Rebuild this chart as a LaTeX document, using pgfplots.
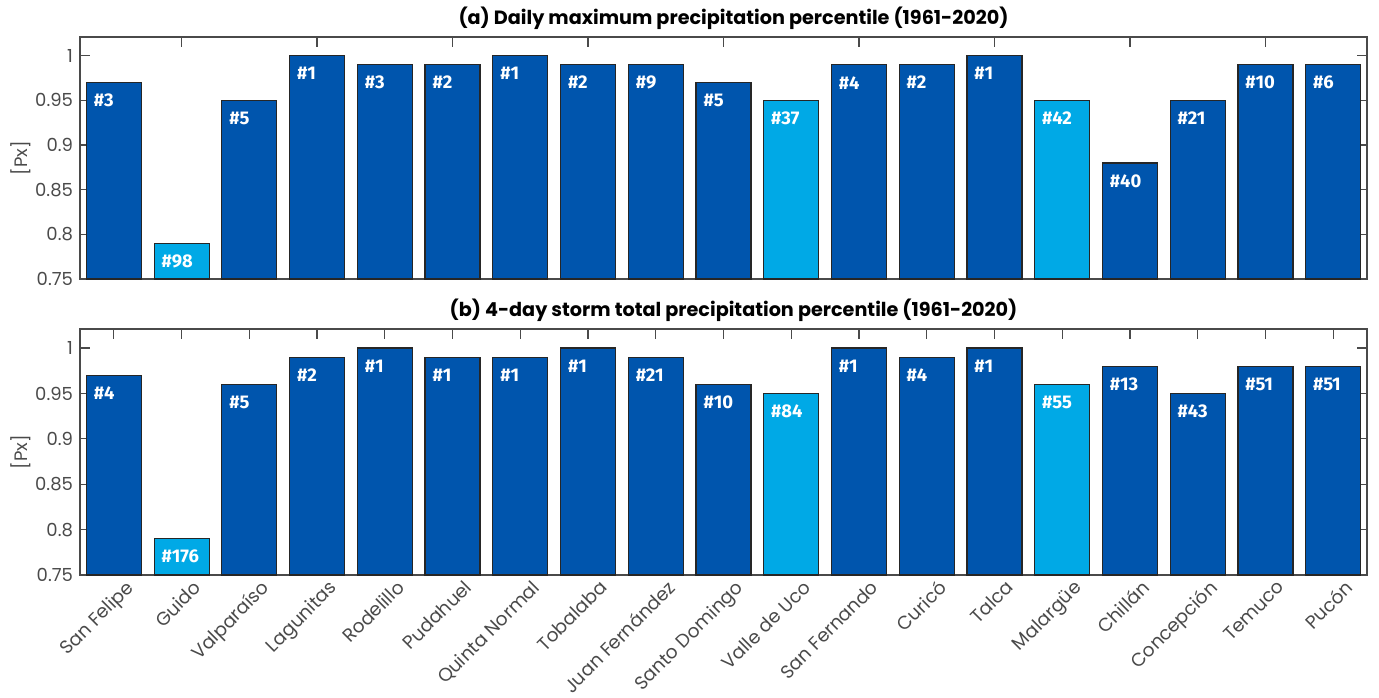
\documentclass[border=0pt]{standalone}
\usepackage{pgfplots}
\pgfplotsset{compat=1.18}
\usepackage{pgfplotstable}
\usepackage{fontspec}
\setmainfont{Poppins}
\newfontfamily\barfont{Fira Sans}

\definecolor{dkblue}{HTML}{0055AD}
\definecolor{ltblue}{HTML}{00A9E6}
\definecolor{axgray}{HTML}{4A4A4A}

% (a) daily maximum precipitation percentile
\pgfplotstableread{
x y lab
1 0.97 3
3 0.95 5
4 1.00 1
5 0.99 3
6 0.99 2
7 1.00 1
8 0.99 2
9 0.99 9
10 0.97 5
12 0.99 4
13 0.99 2
14 1.00 1
16 0.88 40
17 0.95 21
18 0.99 10
19 0.99 6
}\darkA
\pgfplotstableread{
x y lab
2 0.79 98
11 0.95 37
15 0.95 42
}\lightA

% (b) 4-day storm total precipitation percentile
\pgfplotstableread{
x y lab
1 0.97 4
3 0.96 5
4 0.99 2
5 1.00 1
6 0.99 1
7 0.99 1
8 1.00 1
9 0.99 21
10 0.96 10
12 1.00 1
13 0.99 4
14 1.00 1
16 0.98 13
17 0.95 43
18 0.98 51
19 0.98 51
}\darkB
\pgfplotstableread{
x y lab
2 0.79 176
11 0.95 84
15 0.96 55
}\lightB

\pgfplotsset{
  panel/.style={
    scale only axis, width=643.5pt, height=121pt,
    xmin=0.5, xmax=19.5, ymin=0.75, ymax=1.021,
    ytick={0.75,0.8,0.85,0.9,0.95,1},
    yticklabels={0.75,0.8,0.85,0.9,0.95,1},
    xtick pos=both, ytick pos=both,
    tick align=inside, major tick length=5pt,
    tick style={color=axgray, line width=0.6pt},
    axis line style={color=axgray, line width=0.8pt},
    ticklabel style={font=\fontsize{9}{10}\selectfont, text=axgray},
    /pgf/number format/assume math mode=true,
    ylabel={[Px]},
    every axis y label/.style={at={(axis description cs:-0.046,0.5)}, rotate=90, anchor=center, font=\fontsize{9}{10}\selectfont, text=axgray},
    title style={font=\bfseries\fontsize{9.6}{11}\selectfont, yshift=-6pt, xshift=5pt},
  },
  bars/.style={
    ybar, bar width=27.5pt, bar shift=0pt,
    fill=#1, draw=black!85, line width=0.6pt,
    point meta=explicit symbolic,
    nodes near coords={\#\pgfplotspointmeta},
    every node near coord/.append style={anchor=north west, inner sep=0pt,
      xshift=-10.3pt, yshift=-5.5pt, text=white,
      font=\barfont\bfseries\fontsize{9.2}{10}\selectfont},
  },
}

\begin{document}
\begin{tikzpicture}
\begin{axis}[panel, at={(40pt,209pt)}, anchor=south west,
  xtick={2,4,...,18}, xticklabels={},
  title={(a) Daily maximum precipitation percentile (1961-2020)}]
\addplot[bars=dkblue] table[x=x, y=y, meta=lab] {\darkA};
\addplot[bars=ltblue] table[x=x, y=y, meta=lab] {\lightA};
\end{axis}

\begin{axis}[panel, at={(40pt,61pt)}, anchor=south west, height=123pt,
  xtick={1,...,19},
  xticklabels={San Felipe, Guido, Valparaíso, Lagunitas, Rodelillo, Pudahuel,
    Quinta Normal, Tobalaba, Juan Fernández, Santo Domingo, Valle de Uco,
    San Fernando, Curicó, Talca, Malargüe, Chillán, Concepción, Temuco, Pucón},
  xticklabel style={rotate=45, anchor=north east, inner sep=0.5pt, xshift=3pt, yshift=-4.5pt,
    font=\fontsize{9.3}{10}\selectfont},
  title={(b) 4-day storm total precipitation percentile (1961-2020)}]
\addplot[bars=dkblue] table[x=x, y=y, meta=lab] {\darkB};
\addplot[bars=ltblue] table[x=x, y=y, meta=lab] {\lightB};
\end{axis}

% fixed page frame
\pgfresetboundingbox
\useasboundingbox (0,0) rectangle (689.5pt,348.5pt);
\end{tikzpicture}
\end{document}
